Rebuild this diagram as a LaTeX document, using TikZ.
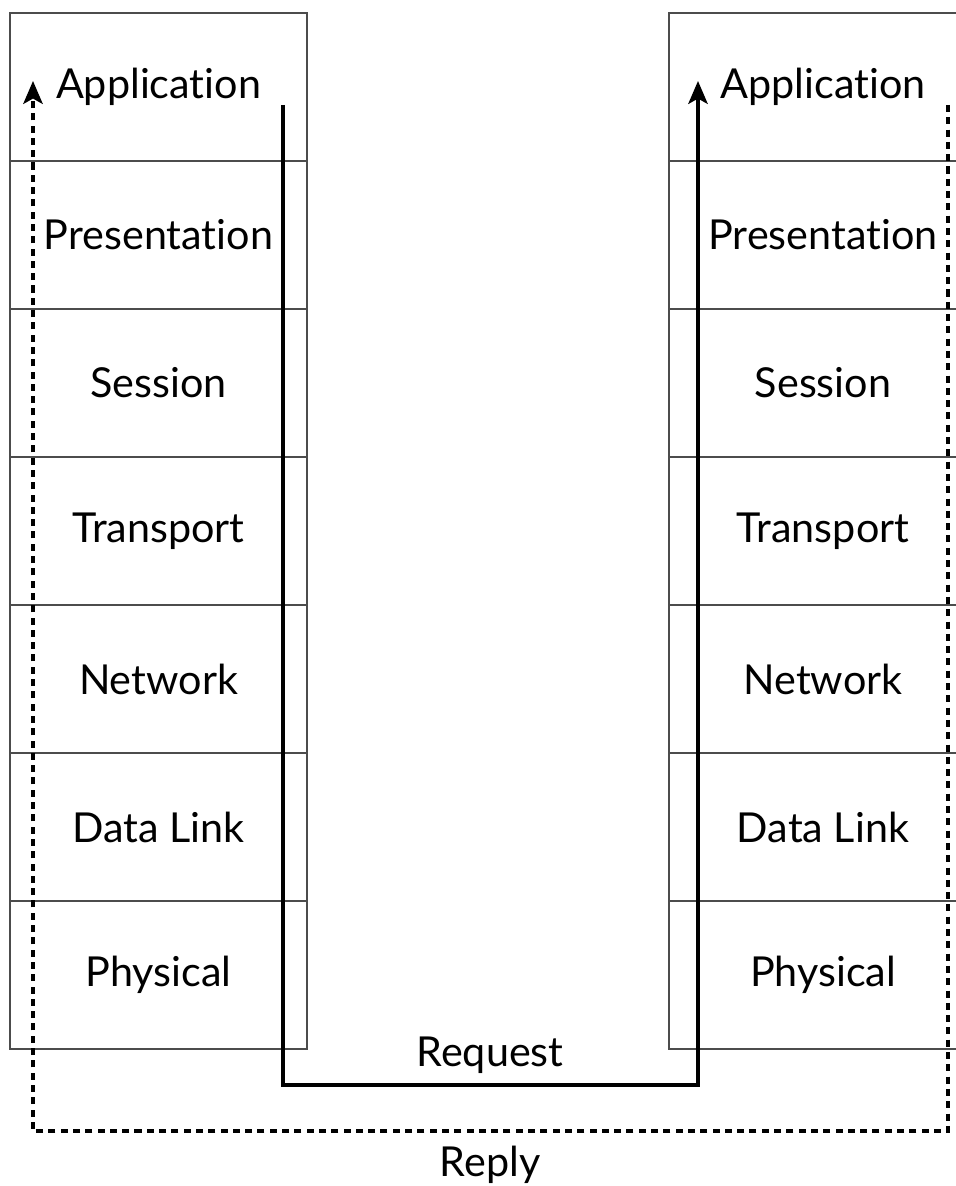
\documentclass[tikz,border=0pt]{standalone}
\usepackage{fontspec}
\setmainfont[Ligatures={NoCommon,NoContextual}]{Lato}
\usetikzlibrary{arrows.meta}
\begin{document}
\begin{tikzpicture}[x=0.02cm,y=-0.02cm,
  layer/.style={draw=black!70, line width=1.1pt, minimum width=5.94cm,
    minimum height=2.96cm, inner sep=0pt, font=\fontsize{23.5}{28}\selectfont},
  rlayer/.style={layer, minimum width=6.16cm},
  label/.style={inner sep=0pt, font=\fontsize{23.5}{28}\selectfont},
  request/.style={line width=2.1pt, -{Stealth[length=13pt,width=11pt,inset=3pt]}},
  reply/.style={line width=2.1pt, dash pattern=on 4pt off 3pt,
    -{Stealth[length=13pt,width=11pt,inset=3pt]}}]
  \useasboundingbox (0,0) rectangle (956,1186);
  \clip (0,0) rectangle (956,1186);

  % the two stacks
  \foreach \name [count=\i] in {Application,Presentation,Session,Transport,Network,Data Link,Physical} {
    \node[layer] (l\i) at (158.5,{87+148*(\i-1)}) {\name};
    \node[rlayer] (r\i) at (823,{87+148*(\i-1)}) {\name};
  }

  % request goes down the left and up the right
  \coordinate (reqs) at (283,105);
  \coordinate (reqe) at (698,81);
  \draw[request] (reqs) -- (283,1085) -| (reqe);
  \node[label] (req) at (490,1055) {Request};

  % reply comes back
  \coordinate (reps) at (948,105);
  \coordinate (repe) at (33,81);
  \draw[reply] (reps) -- (948,1131) -| (repe);
  \node[label] (rep) at (490,1165) {Reply};
\end{tikzpicture}
\end{document}
